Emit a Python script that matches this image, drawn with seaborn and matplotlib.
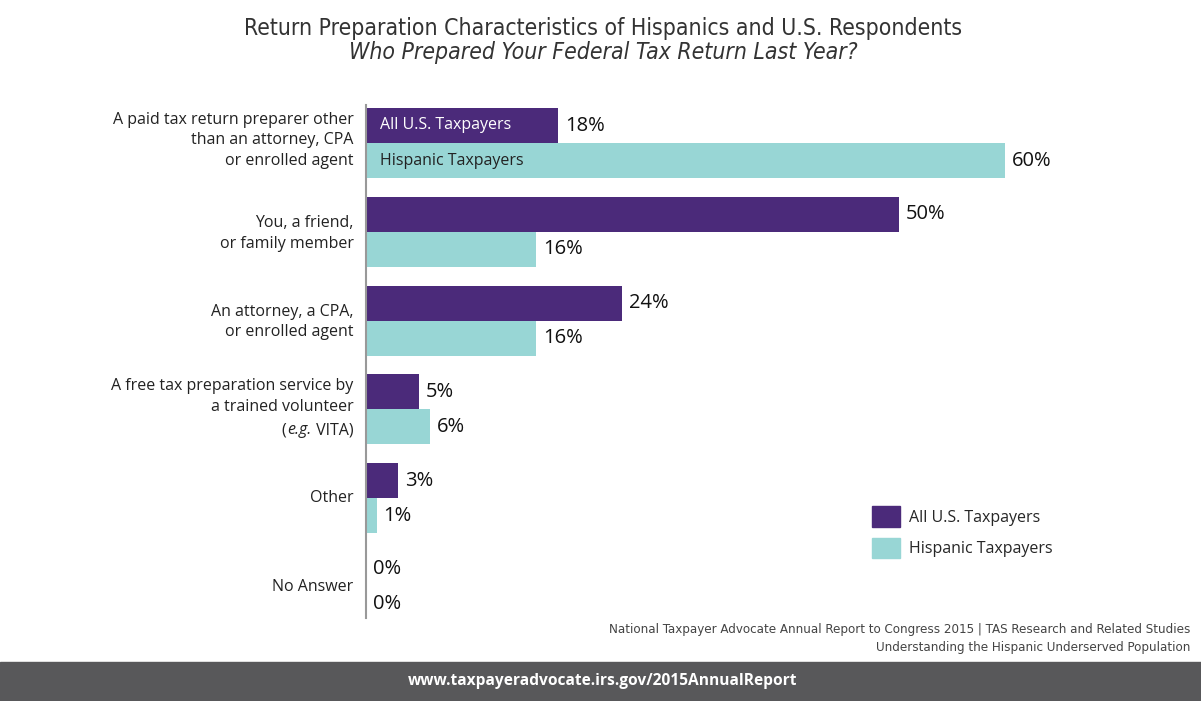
import pandas as pd
import matplotlib.pyplot as plt
import seaborn as sns
from matplotlib.patches import Rectangle

sns.set_style("white")
plt.rcParams['font.family'] = ['Open Sans', 'DejaVu Sans']

categories = [
    "A paid tax return preparer other\nthan an attorney, CPA\nor enrolled agent",
    "You, a friend,\nor family member",
    "An attorney, a CPA,\nor enrolled agent",
    "A free tax preparation service by\na trained volunteer\n(e.g. VITA)",
    "Other",
    "No Answer",
]
all_us = [18, 50, 24, 5, 3, 0]
hispanic = [60, 16, 16, 6, 1, 0]
groups = ["All U.S. Taxpayers", "Hispanic Taxpayers"]
colors = ["#4b2a7a", "#98d6d5"]

df = pd.DataFrame({
    "Category": categories * 2,
    "Group": [groups[0]] * len(categories) + [groups[1]] * len(categories),
    "Percent": all_us + hispanic,
})

narrow = dict(family='DejaVu Sans', stretch='condensed')
lab = dict(fontsize=11.5, color="#222222", ha="right", va="center",
           textcoords="offset points", linespacing=1.4, multialignment="right")

fig = plt.figure(figsize=(12.01, 7.01), dpi=100)
ax = fig.add_axes([366 / 1201, 1 - 618 / 701, (1100 - 366) / 1201, (618 - 105) / 701])

sns.barplot(data=df, y="Category", x="Percent", hue="Group", order=categories,
            hue_order=groups, palette=colors, orient="h", width=0.79,
            saturation=1, legend=False, linewidth=0, ax=ax)

ax.set_xlim(0, 68.9)
ax.set_ylim(5.35, -0.43)
ax.set_xticks([])
ax.set_yticks([])
ax.set_xlabel("")
ax.set_ylabel("")
for s in ["top", "right", "bottom"]:
    ax.spines[s].set_visible(False)
ax.spines["left"].set_color("#999999")
ax.spines["left"].set_linewidth(1.5)

# category labels, drawn as text so "e.g." can be italic
line_pt = 11.5 * 1.4
shift = {1: 0, 2: -1, 3: 2}
for i, c in enumerate(categories):
    if "(e.g. VITA)" in c:
        head = c.replace("\n(e.g. VITA)", "")
        ax.annotate(head, xy=(0, i), xytext=(-9, line_pt / 2 + 1), **lab)
        a1 = ax.annotate(" VITA)", xy=(0, i), xytext=(-9, -line_pt + 1), **lab)
        a2 = ax.annotate("e.g.", xy=(0, 0.5), xycoords=a1, xytext=(-0.4, 0),
                         style="italic", **lab)
        ax.annotate("(", xy=(0, 0.5), xycoords=a2, xytext=(-0.4, 0), **lab)
    else:
        ax.annotate(c, xy=(0, i), xytext=(-9, shift[c.count("\n") + 1]), **lab)

for cont in ax.containers:
    labels = [f"{v:.0f}%" for v in cont.datavalues]
    ax.bar_label(cont, labels=labels, padding=5, fontsize=14.5, color="#111111")

# labels inside the first pair of bars
ax.text(1.3, -0.2, groups[0], color="white", fontsize=11.5, va="center")
ax.text(1.3, 0.2, groups[1], color="#222222", fontsize=11.5, va="center")

# legend
handles = [Rectangle((0, 0), 1, 1, color=c) for c in colors]
fig.legend(handles, groups, loc="upper left", bbox_to_anchor=(858 / 1201, 1 - 492 / 701),
           frameon=False, fontsize=11.5, handlelength=1.75, handleheight=1.6,
           labelspacing=0.68, handletextpad=0.55)

fig.text(603 / 1201, 1 - 29 / 701, "Return Preparation Characteristics of Hispanics and U.S. Respondents",
         ha="center", va="center", fontsize=16.5, color="#333333", **narrow)
fig.text(603 / 1201, 1 - 53 / 701, "Who Prepared Your Federal Tax Return Last Year?",
         ha="center", va="center", fontsize=16.5, color="#333333", style="italic", **narrow)

fig.text(1190 / 1201, 1 - 630 / 701,
         "National Taxpayer Advocate Annual Report to Congress 2015 | TAS Research and Related Studies",
         ha="right", va="center", fontsize=9.5, color="#444444", **narrow)
fig.text(1190 / 1201, 1 - 647 / 701, "Understanding the Hispanic Underserved Population",
         ha="right", va="center", fontsize=9.5, color="#444444", **narrow)

fig.patches.append(Rectangle((0, 0), 1, 39 / 701, transform=fig.transFigure,
                             color="#58585a", zorder=0))
fig.text(603 / 1201, 1 - 681 / 701, "www.taxpayeradvocate.irs.gov/2015AnnualReport",
         ha="center", va="center", fontsize=11.2, color="white", weight="bold")

fig.savefig("out.png", dpi=100)
